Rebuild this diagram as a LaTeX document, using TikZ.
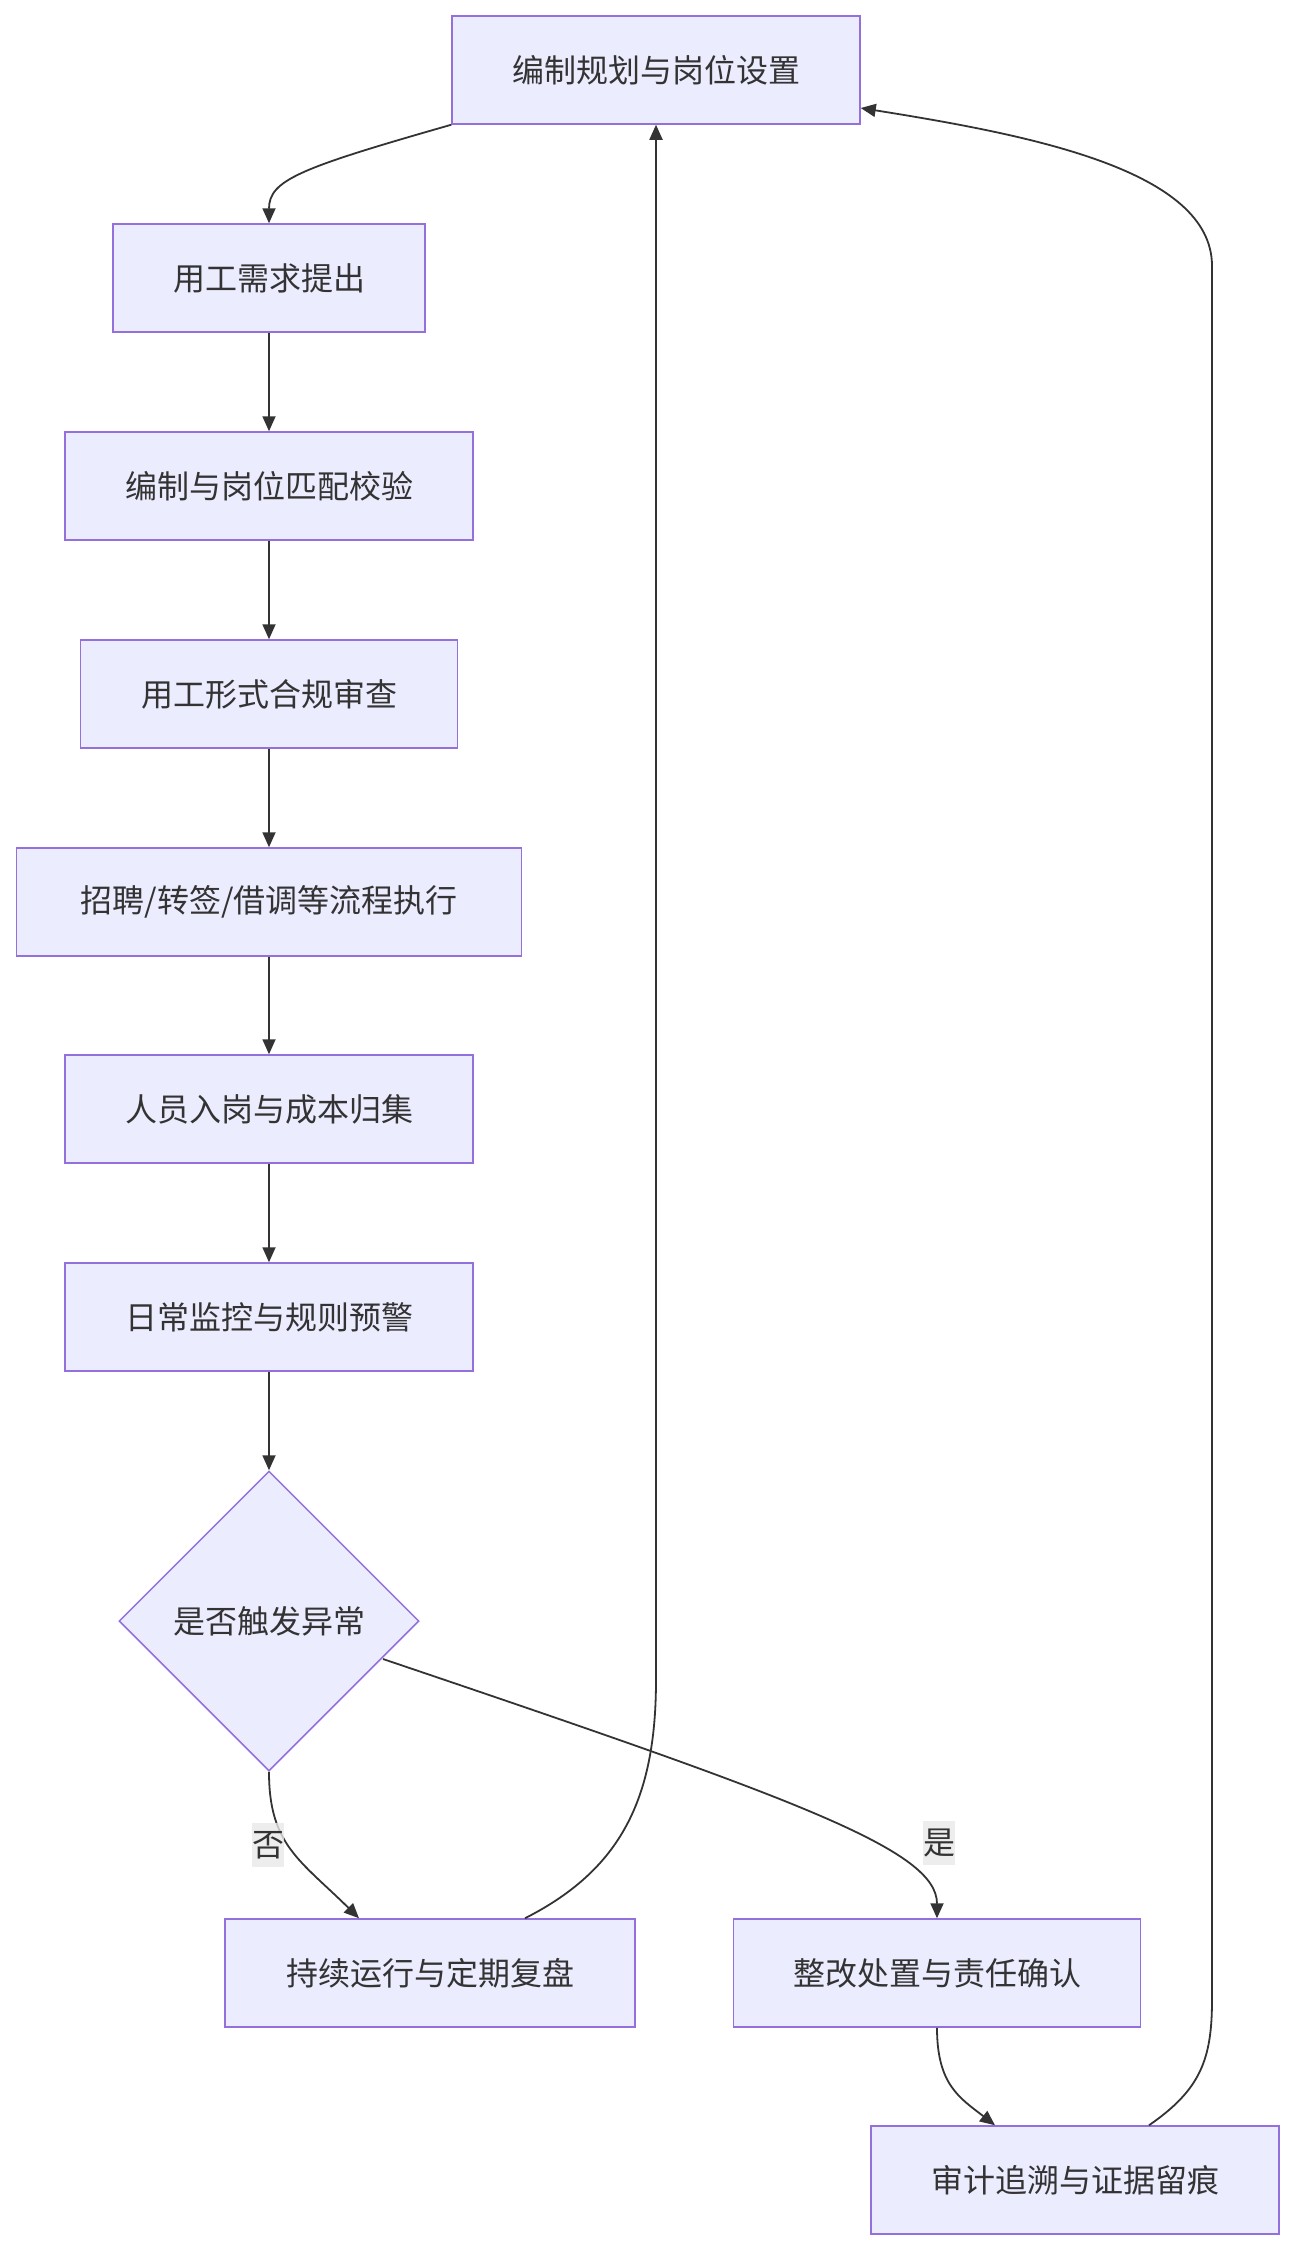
\documentclass[tikz,border=0pt]{standalone}
\usepackage{fontspec}
\setmainfont{Noto Sans CJK SC}
\usetikzlibrary{shapes.geometric,arrows.meta}
\definecolor{boxfill}{HTML}{ECECFF}
\definecolor{boxline}{HTML}{9370DB}
\definecolor{ink}{HTML}{333333}
\definecolor{lblbg}{HTML}{E8E8E8}
\begin{document}
\begin{tikzpicture}[x=1pt,y=-1pt,
 txt/.style={text=ink,font=\fontsize{32}{38}\selectfont},
 box/.style={txt,draw=boxline,fill=boxfill,line width=1.5pt,minimum height=108pt,inner sep=0pt},
 dec/.style={txt,diamond,aspect=1,draw=boxline,fill=boxfill,line width=1.5pt,minimum width=300pt,minimum height=300pt,inner sep=0pt},
 edge/.style={draw=ink,line width=1.8pt,-{Triangle[length=15pt,width=13pt]}},
 lbl/.style={txt,fill=lblbg,fill opacity=0.8,text opacity=1,inner sep=0pt,minimum height=44pt}]
\useasboundingbox (0,0) rectangle (1295,2252);
\node[box,minimum width=408pt] (b1) at (656,70) {编制规划与岗位设置};
\node[box,minimum width=312pt] (b2) at (269,278) {用工需求提出};
\node[box,minimum width=408pt] (b3) at (269,486) {编制与岗位匹配校验};
\node[box,minimum width=377pt] (b4) at (269,694) {用工形式合规审查};
\node[box,minimum width=505pt] (b5) at (269,902) {招聘/转签/借调等流程执行};
\node[box,minimum width=408pt] (b6) at (269,1109) {人员入岗与成本归集};
\node[box,minimum width=408pt] (b7) at (269,1317) {日常监控与规则预警};
\node[dec] (d) at (269,1621) {是否触发异常};
\node[box,minimum width=410pt] (b8) at (430,1973) {持续运行与定期复盘};
\node[box,minimum width=407pt] (b9) at (937,1973) {整改处置与责任确认};
\node[box,minimum width=408pt] (b10) at (1075,2180) {审计追溯与证据留痕};

\draw[edge] (b1.south west) .. controls (300,168) and (269,180) .. (b2.north);
\draw[edge] (b2) -- (b3);
\draw[edge] (b3) -- (b4);
\draw[edge] (b4) -- (b5);
\draw[edge] (b5) -- (b6);
\draw[edge] (b6) -- (b7);
\draw[edge] (b7) -- (d);
\draw[edge] (d.south) .. controls (269,1845) and (300,1860) .. ([xshift=-71pt]b8.north);
\draw[edge] ([xshift=114pt,yshift=-38pt]d.center) .. controls (800,1800) and (937,1850) .. (b9.north);
\draw[edge] (b9.south) .. controls (937,2085) and (960,2098) .. ([xshift=-80pt]b10.north);
\draw[edge] ([xshift=74pt]b10.north) .. controls (1200,2090) and (1212,2060) .. (1212,2000) -- (1212,266) .. controls (1212,170) and (1030,135) .. ([yshift=-38pt]b1.east);
\draw[edge] ([xshift=95pt]b8.north) .. controls (620,1870) and (656,1800) .. (656,1680) -- (b1.south);

\node[lbl] (l1) at (268,1845) {否};
\node[lbl] (l2) at (939,1843) {是};
\end{tikzpicture}
\end{document}
